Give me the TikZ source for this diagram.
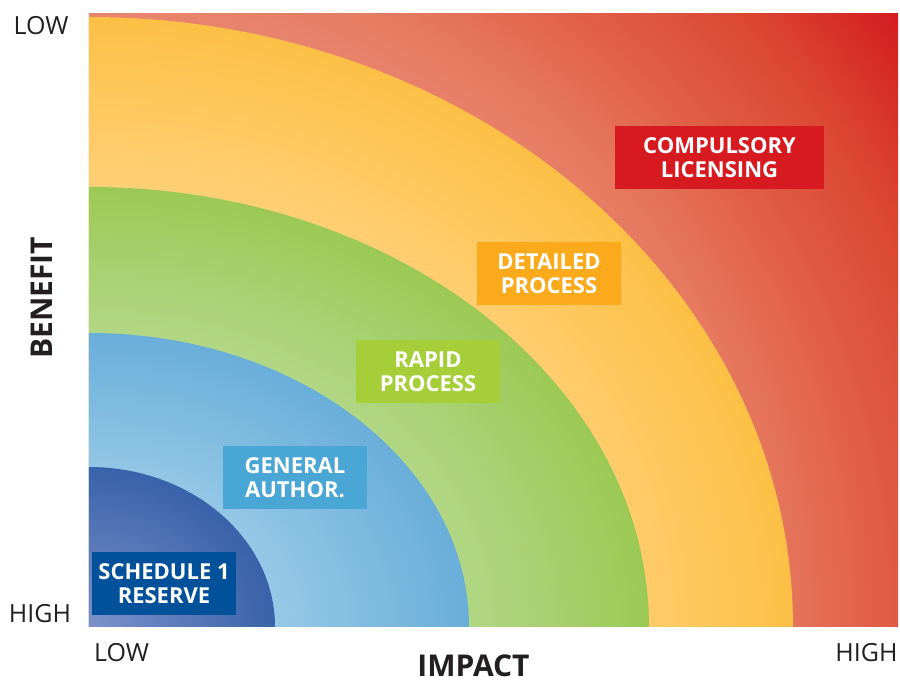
\documentclass[tikz,border=0pt]{standalone}
\usepackage{fontspec}
\setmainfont{Open Sans}

\definecolor{ink}{HTML}{231F20}
\definecolor{schedbox}{HTML}{00519A}
\definecolor{genbox}{HTML}{4AA6D4}
\definecolor{rapidbox}{HTML}{A6CE39}
\definecolor{detailbox}{HTML}{FBAA1C}
\definecolor{compbox}{HTML}{D71920}
% zone shades, inner to outer
\definecolor{redA}{HTML}{E98670}\definecolor{redB}{HTML}{E67A60}
\definecolor{redC}{HTML}{E16048}\definecolor{redD}{HTML}{DB4632}
\definecolor{redE}{HTML}{D41A20}
\definecolor{yelA}{HTML}{FED27C}\definecolor{yelB}{HTML}{FDC046}
\definecolor{grnA}{HTML}{B3D88A}\definecolor{grnB}{HTML}{9CC955}
\definecolor{lbuA}{HTML}{97C9E7}\definecolor{lbuB}{HTML}{69AED9}
\definecolor{dbuA}{HTML}{7D92CA}\definecolor{dbuB}{HTML}{3862AA}

% 25bp is the rim of the zone
\pgfdeclareradialshading{redzone}{\pgfpointorigin}{color(0bp)=(redA); color(15bp)=(redA);
  color(17bp)=(redB); color(19.5bp)=(redC); color(22.5bp)=(redD); color(25.5bp)=(redE); color(50bp)=(redE)}
\pgfdeclareradialshading{yelzone}{\pgfpointorigin}{color(0bp)=(yelA); color(17bp)=(yelA);
  color(25bp)=(yelB); color(50bp)=(yelB)}
\pgfdeclareradialshading{grnzone}{\pgfpointorigin}{color(0bp)=(grnA); color(16bp)=(grnA);
  color(25bp)=(grnB); color(50bp)=(grnB)}
\pgfdeclareradialshading{lbuzone}{\pgfpointorigin}{color(0bp)=(lbuA); color(12bp)=(lbuA);
  color(25bp)=(lbuB); color(50bp)=(lbuB)}
\pgfdeclareradialshading{dbuzone}{\pgfpointorigin}{color(0bp)=(dbuA);
  color(25bp)=(dbuB); color(50bp)=(dbuB)}

\begin{document}
\begin{tikzpicture}
[x=1pt,y=1pt,
 zonetag/.style={fill=#1,text=white,inner sep=0pt,outer sep=0pt,
   minimum width=144pt,minimum height=63pt,align=center,
   font=\bfseries\fontsize{22}{23.5}\selectfont},
 axisend/.style={text=ink,inner sep=0pt,font=\fontsize{25}{30}\selectfont},
 axisname/.style={text=ink,inner sep=0pt,font=\bfseries\fontsize{30}{36}\selectfont}]
\useasboundingbox (-89,-57) rectangle (811,627);
% background zone
\begin{scope}
  \clip (0,0) rectangle (809,613);
  \shade[shading=redzone] (-1000,-1000) rectangle (1000,1000);
\end{scope}
% quarter ellipses, outer to inner
\begin{scope}
  \clip (0,0) -- (704,0) arc[start angle=0,end angle=90,x radius=704,y radius=610] -- cycle;
  \shade[shading=yelzone] (-704,-610) rectangle (704,610);
\end{scope}
\begin{scope}
  \clip (0,0) -- (560,0) arc[start angle=0,end angle=90,x radius=560,y radius=440] -- cycle;
  \shade[shading=grnzone] (-560,-440) rectangle (560,440);
\end{scope}
\begin{scope}
  \clip (0,0) -- (380,0) arc[start angle=0,end angle=90,x radius=380,y radius=294] -- cycle;
  \shade[shading=lbuzone] (-380,-294) rectangle (380,294);
\end{scope}
\begin{scope}
  \clip (0,0) -- (186,0) arc[start angle=0,end angle=90,x radius=186,y radius=160] -- cycle;
  \shade[shading=dbuzone] (-186,-160) rectangle (186,160);
\end{scope}
% zone labels
\node[zonetag=schedbox]  (sched)  at (75,43.5)    {SCHEDULE 1\\RESERVE};
\node[zonetag=genbox]    (gen)    at (206,149.5)  {GENERAL\\AUTHOR.};
\node[zonetag=rapidbox]  (rapid)  at (339,255.5)  {RAPID\\PROCESS};
\node[zonetag=detailbox] (detail) at (460,353.5)  {DETAILED\\PROCESS};
\node[zonetag=compbox,minimum width=209pt] (comp) at (630.5,469.5) {COMPULSORY\\LICENSING};
% axes
\node[axisend] (blow)  at (-48,601)     {LOW};
\node[axisend] (bhigh) at (-49,13)      {HIGH};
\node[axisend] (ilow)  at (32.5,-26)    {LOW};
\node[axisend] (ihigh) at (777.5,-25.5) {HIGH};
\node[axisname] (impact)  at (384.5,-39) {IMPACT};
\node[axisname,rotate=90] (benefit) at (-47,329) {BENEFIT};
\end{tikzpicture}
\end{document}
